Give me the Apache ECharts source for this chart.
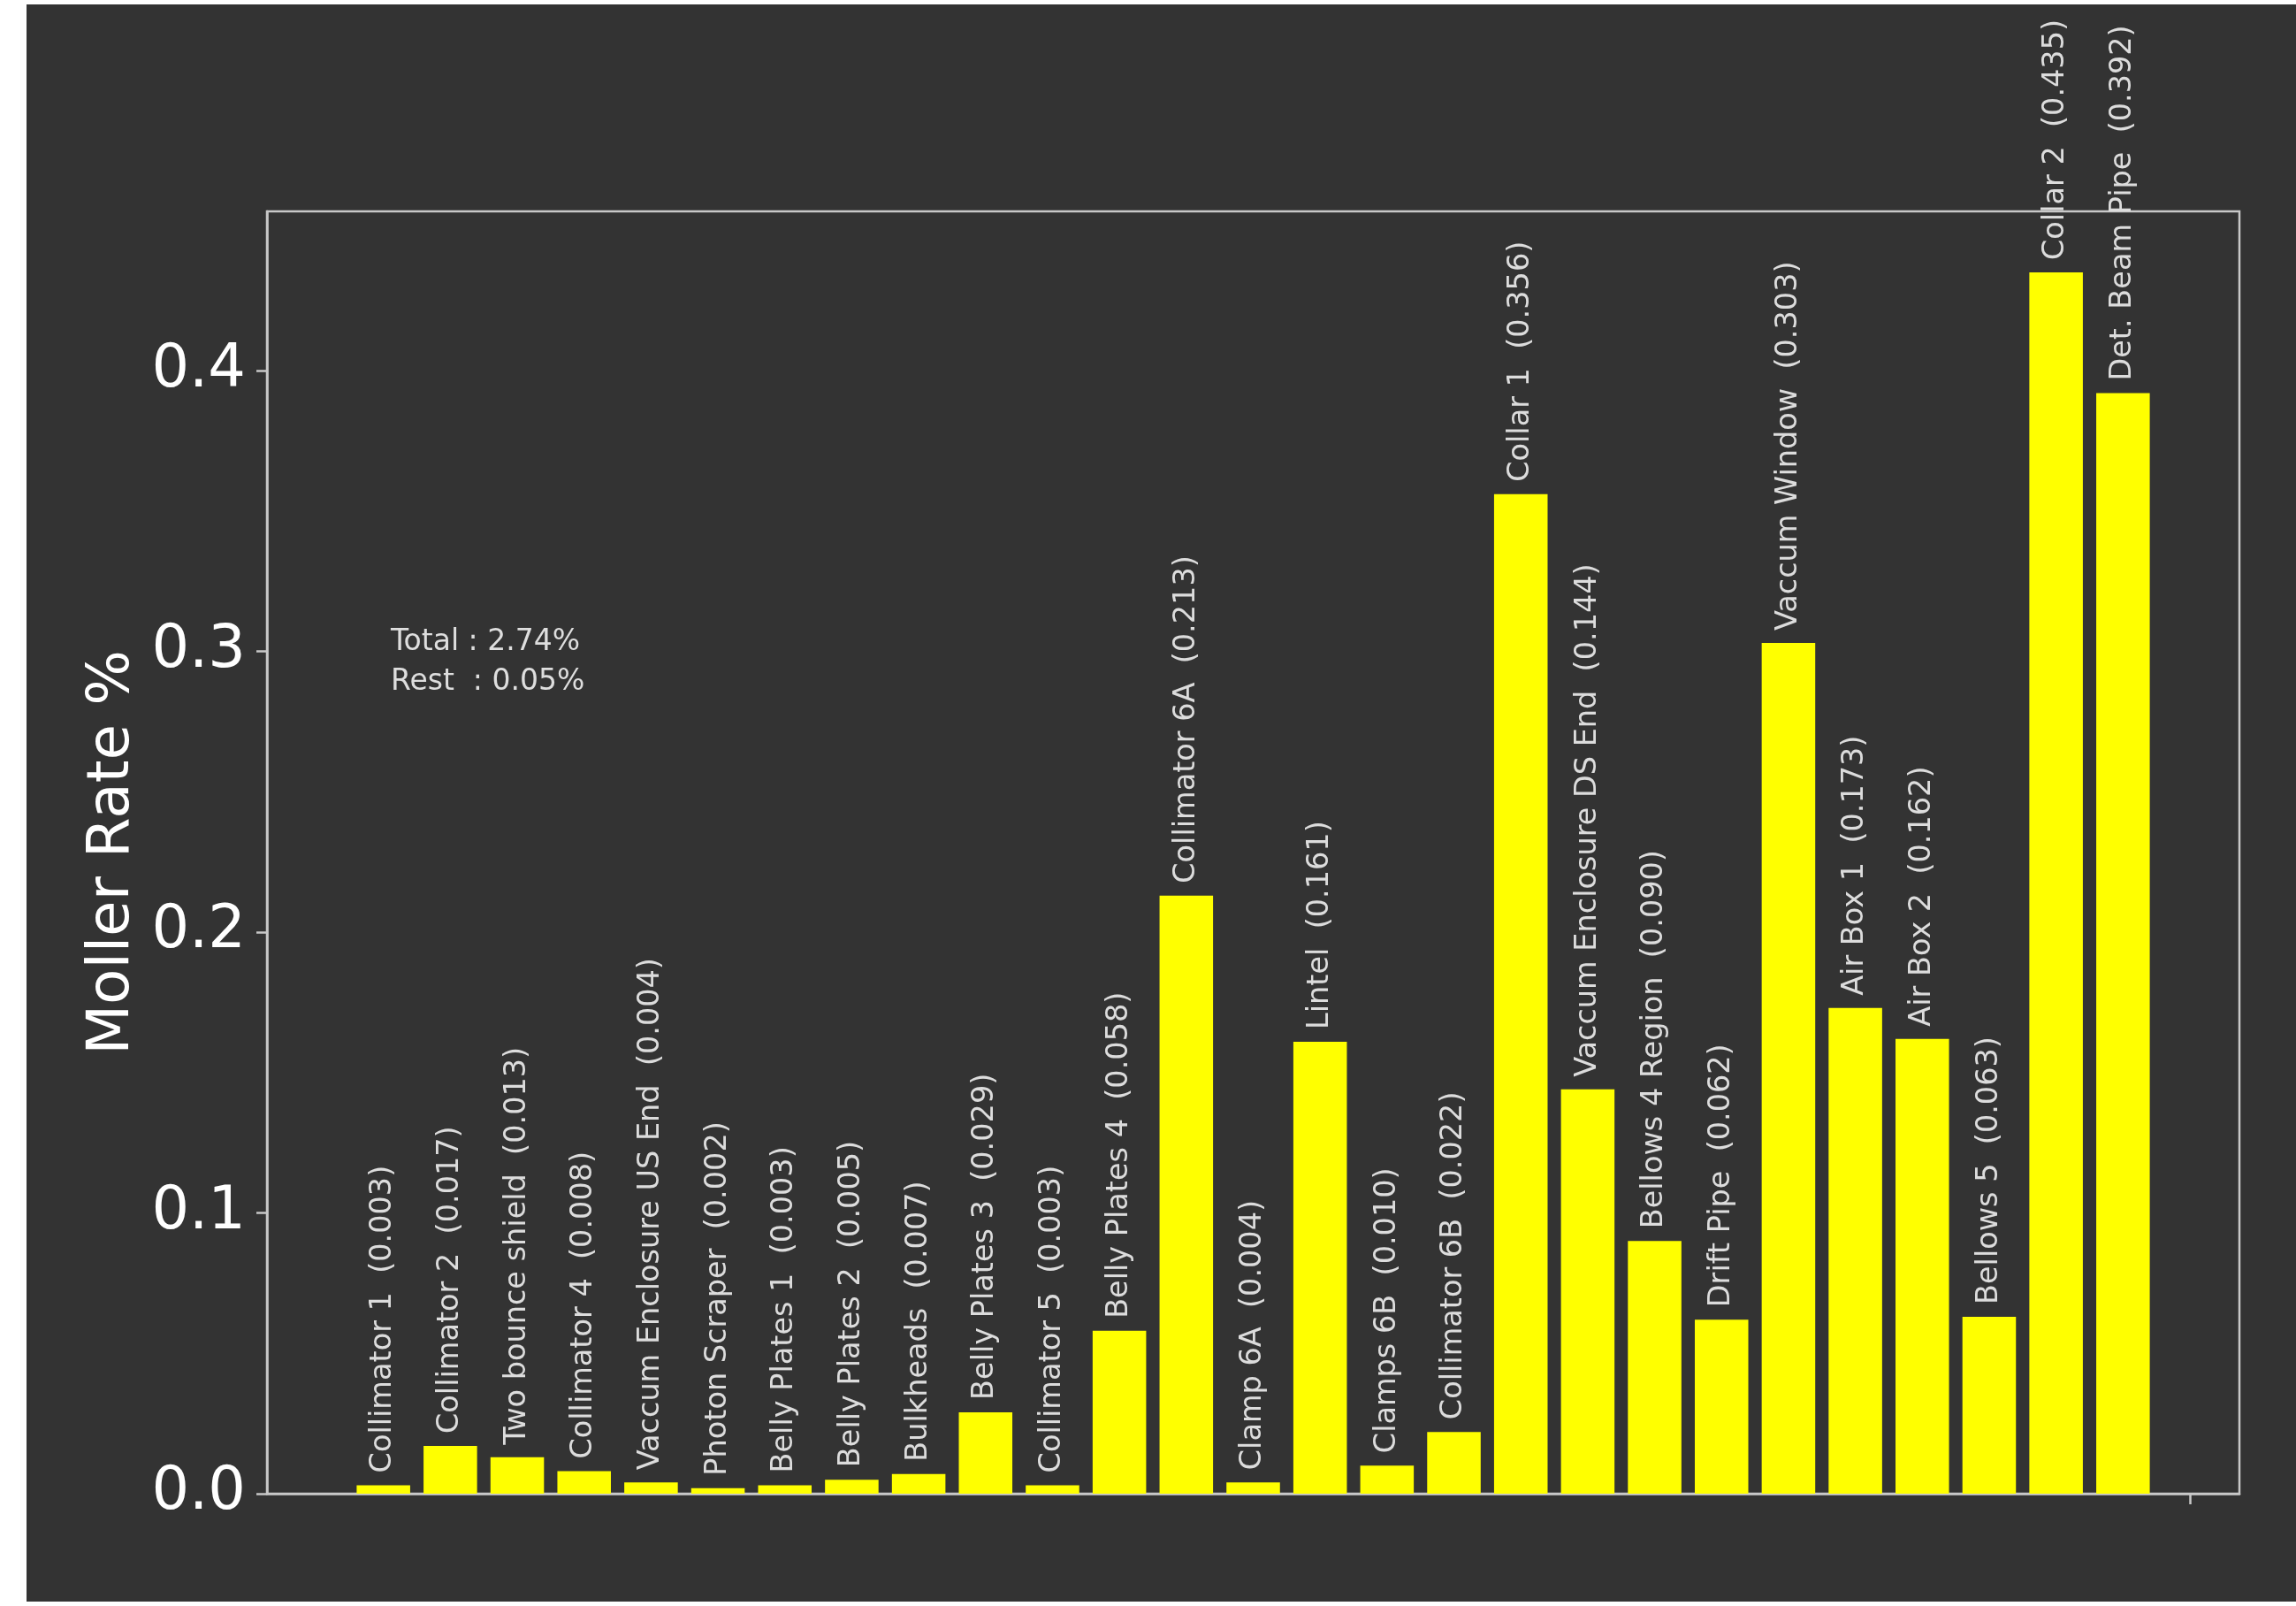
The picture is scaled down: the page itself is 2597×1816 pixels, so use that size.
<!DOCTYPE html>
<html>
<head>
<meta charset="utf-8">
<script src="https://cdn.jsdelivr.net/npm/echarts@6/dist/echarts.min.js"></script>
<style>
  html, body { margin: 0; padding: 0; background: #ffffff; }
  #chart { position: absolute; left: 30px; top: 5px; width: 2567px; height: 1806px; }
</style>
</head>
<body>
<div id="chart"></div>
<script>
// component names, in beam order
var names = [
  'Collimator 1', 'Collimator 2', 'Two bounce shield', 'Collimator 4',
  'Vaccum Enclosure US End', 'Photon Scraper', 'Belly Plates 1', 'Belly Plates 2',
  'Bulkheads', 'Belly Plates 3', 'Collimator 5', 'Belly Plates 4', 'Collimator 6A',
  'Clamp 6A', 'Lintel', 'Clamps 6B', 'Collimator 6B', 'Collar 1',
  'Vaccum Enclosure DS End', 'Bellows 4 Region', 'Drift Pipe', 'Vaccum Window',
  'Air Box 1', 'Air Box 2', 'Bellows 5', 'Collar 2', 'Det. Beam Pipe'
];
// moller rate in %
var rates = [
  0.003, 0.017, 0.013, 0.008, 0.004, 0.002, 0.003, 0.005, 0.007, 0.029,
  0.003, 0.058, 0.213, 0.004, 0.161, 0.010, 0.022, 0.356, 0.144, 0.090,
  0.062, 0.303, 0.173, 0.162, 0.063, 0.435, 0.392
];
var yTicks = [0, 0.1, 0.2, 0.3, 0.4];
var xTicks = [27];
var totalText = 'Total : 2.74%';
var restText = 'Rest  : 0.05%';

var font = 'DejaVu Sans';
var frameColor = '#c8c8c8';

var chart = echarts.init(document.getElementById('chart'));

var option = {
  backgroundColor: '#333333',
  animation: false,
  grid: {
    show: true,
    left: 272,
    top: 234,
    right: 64,
    bottom: 122,
    borderColor: frameColor,
    borderWidth: 2.5,
    backgroundColor: 'transparent'
  },
  xAxis: {
    type: 'value',
    min: -1.74,
    max: 27.74,
    axisLine: { show: true, onZero: false, lineStyle: { color: frameColor, width: 2.5 } },
    axisTick: {
      show: true,
      inside: false,
      length: 12,
      customValues: xTicks,
      lineStyle: { color: frameColor, width: 2.5 }
    },
    axisLabel: { show: false },
    splitLine: { show: false }
  },
  yAxis: {
    type: 'value',
    min: 0,
    max: 0.45675,
    name: 'Moller Rate %',
    nameLocation: 'middle',
    nameRotate: 90,
    nameGap: 140,
    nameTextStyle: { color: '#ffffff', fontSize: 66, fontFamily: font },
    axisLine: { show: true, onZero: false, lineStyle: { color: frameColor, width: 2.5 } },
    axisTick: {
      show: true,
      inside: false,
      length: 12,
      customValues: yTicks,
      lineStyle: { color: frameColor, width: 2.5 }
    },
    axisLabel: {
      customValues: yTicks,
      color: '#ffffff',
      fontSize: 67,
      fontFamily: font,
      margin: 24,
      formatter: function (v) { return v.toFixed(1); }
    },
    splitLine: { show: false }
  },
  graphic: [{
    type: 'text',
    left: 412,
    top: 699,
    style: {
      text: totalText + '\n' + restText,
      fill: '#dedede',
      fontSize: 33,
      fontFamily: font,
      lineHeight: 45
    }
  }],
  series: [{
    type: 'bar',
    data: rates.map(function (v, i) { return [i, v]; }),
    barWidth: '80%',
    itemStyle: { color: '#ffff00' },
    label: {
      show: true,
      position: 'top',
      rotate: 90,
      align: 'left',
      verticalAlign: 'middle',
      distance: 14,
      color: '#dcdcdc',
      fontSize: 33.5,
      fontFamily: font,
      formatter: function (p) {
        return names[p.dataIndex] + '  (' + rates[p.dataIndex].toFixed(3) + ')';
      }
    }
  }]
};

chart.setOption(option);
</script>
</body>
</html>
